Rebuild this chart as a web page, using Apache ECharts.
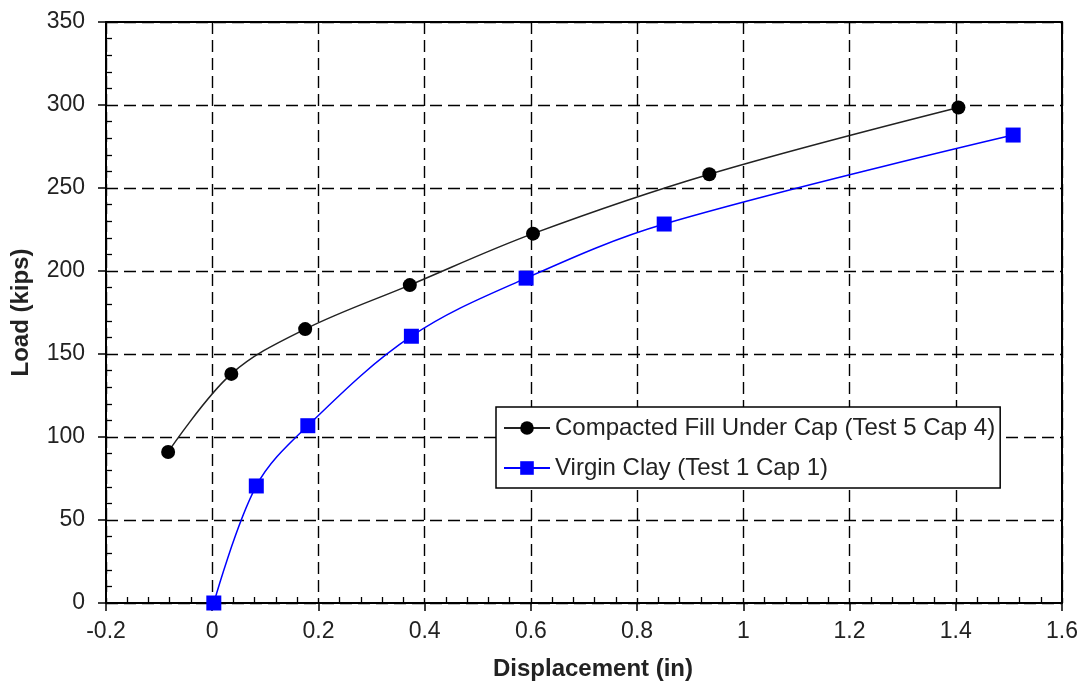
<!DOCTYPE html>
<html>
<head>
<meta charset="utf-8">
<script src="https://cdn.jsdelivr.net/npm/echarts@6/dist/echarts.min.js"></script>
<style>html,body{margin:0;padding:0;background:#fff}#c{width:1081px;height:686px}</style>
</head>
<body>
<div id="c"></div>
<script>
const fillName = 'Compacted Fill Under Cap (Test 5 Cap 4)';
const fillX = [-0.083, 0.036, 0.175, 0.372, 0.604, 0.936, 1.405];
const fillY = [91, 138, 165, 191.5, 222.5, 258.3, 298.5];
const clayName = 'Virgin Clay (Test 1 Cap 1)';
const clayX = [0.003, 0.083, 0.18, 0.375, 0.591, 0.851, 1.508];
const clayY = [0, 70.5, 106.8, 160.7, 195.7, 228.3, 281.9];
const xTitle = 'Displacement (in)';
const yTitle = 'Load (kips)';

const pairs = (xs, ys) => xs.map((x, i) => [x, ys[i]]);
const font = 'Liberation Sans, Arial, sans-serif';
const chart = echarts.init(document.getElementById('c'));
const gridLine = { show: true, lineStyle: { color: '#000', width: 1.4, type: [12, 6] } };
chart.setOption({
  animation: false,
  grid: { left: 106, right: 19, top: 22, bottom: 83 },
  xAxis: [{
    type: 'value', min: -0.2, max: 1.6, interval: 0.2,
    name: xTitle, nameLocation: 'middle', nameGap: 54,
    nameTextStyle: { fontFamily: font, fontSize: 24, fontWeight: 'bold', color: '#222', padding: [0, 0, 0, 18] },
    axisLine: { show: true, onZero: false, lineStyle: { color: '#000', width: 2 } },
    axisTick: { show: true, length: 8, lineStyle: { color: '#000', width: 1.5 } },
    minorTick: { show: true, splitNumber: 5, length: -6, lineStyle: { color: '#000', width: 1.3 } },
    axisLabel: { fontFamily: font, fontSize: 23, color: '#222', margin: 17 },
    splitLine: gridLine
  }, {
    type: 'value', position: 'top', min: -0.2, max: 1.6,
    axisLine: { show: true, onZero: false, lineStyle: { color: '#000', width: 2 } },
    axisTick: { show: false }, axisLabel: { show: false }, splitLine: { show: false }
  }],
  yAxis: [{
    type: 'value', min: 0, max: 350, interval: 50,
    name: yTitle, nameLocation: 'middle', nameGap: 73, nameRotate: 90,
    nameTextStyle: { fontFamily: font, fontSize: 24, fontWeight: 'bold', color: '#222' },
    axisLine: { show: true, onZero: false, lineStyle: { color: '#000', width: 2 } },
    axisTick: { show: true, length: 8, lineStyle: { color: '#000', width: 1.5 } },
    minorTick: { show: true, splitNumber: 5, length: -6, lineStyle: { color: '#000', width: 1.3 } },
    axisLabel: { fontFamily: font, fontSize: 23, color: '#222', margin: 21 },
    splitLine: gridLine
  }, {
    type: 'value', position: 'right', min: 0, max: 350,
    axisLine: { show: true, onZero: false, lineStyle: { color: '#000', width: 2 } },
    axisTick: { show: false }, axisLabel: { show: false }, splitLine: { show: false }
  }],
  legend: {
    orient: 'vertical', left: 496, top: 407,
    backgroundColor: '#fff', borderColor: '#000', borderWidth: 1.5,
    padding: [7, 5, 6, 7], itemGap: 12, itemWidth: 46, itemHeight: 17,
    textStyle: { fontFamily: font, fontSize: 24, color: '#222', lineHeight: 28 },
    data: [fillName, clayName]
  },
  series: [{
    name: fillName, type: 'line', smooth: 0.35,
    data: pairs(fillX, fillY),
    symbol: 'circle', symbolSize: 14,
    lineStyle: { color: '#222', width: 1.5 },
    itemStyle: { color: '#000' }, z: 3
  }, {
    name: clayName, type: 'line', smooth: 0.35,
    data: pairs(clayX, clayY),
    symbol: 'rect', symbolSize: 15,
    lineStyle: { color: '#0000ff', width: 1.5 },
    itemStyle: { color: '#0000ff' }, z: 3
  }]
});
</script>
</body>
</html>
